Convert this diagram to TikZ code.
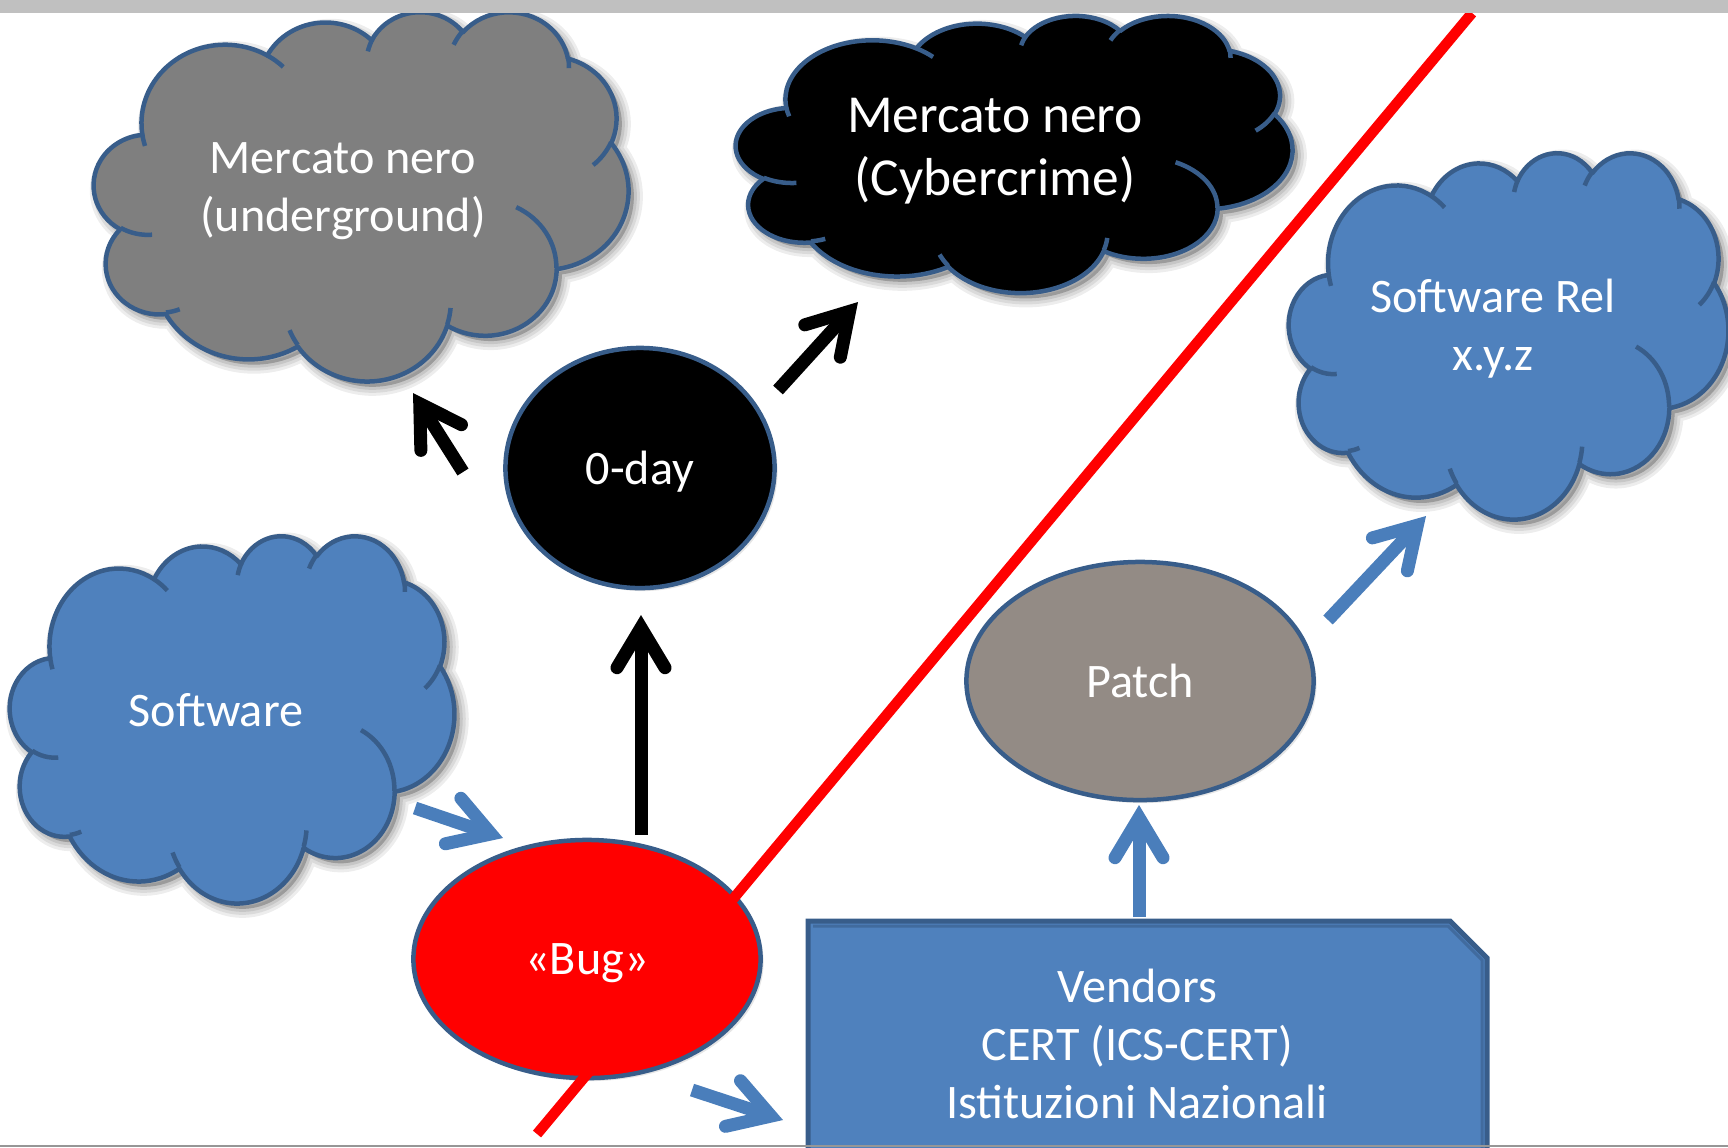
\documentclass[tikz,border=0pt]{standalone}
\usepackage{fontspec}
\setmainfont{Carlito}
\usetikzlibrary{arrows.meta, shapes.geometric, shadows}

\definecolor{ppblue}{HTML}{4F81BD}
\definecolor{ppline}{HTML}{385D8A}
\definecolor{arrowblue}{HTML}{4A7EBB}
\definecolor{ppgray}{HTML}{7F7F7F}
\definecolor{pptaupe}{HTML}{938B85}
\definecolor{ppbar}{HTML}{C0C0C0}
\definecolor{ppedge}{HTML}{969696}

% one arc of the cloud outline, box 100 x 100
\newcommand\cloudarc[5]{%
  \pgfmathsetmacro\ca{atan2(#2*sin(#4),#3*cos(#4))}%
  \pgfmathsetmacro\cb{atan2(#2*sin(#4+#5),#3*cos(#4+#5))}%
  \pgfmathsetmacro\cd{mod((\cb)-(\ca)+720,360)}%
  \edef\cloudtmp{\noexpand\tikzset{#1/.style={x radius=#2, y radius=#3,
    start angle=\ca, delta angle=\cd}}}%
  \cloudtmp}
\cloudarc{co-A}{15.632}{21.273}{-190.4875}{123.7805}
\cloudarc{co-B}{12.345}{16.822}{-144.1024}{89.9452}
\cloudarc{co-C}{10.104}{13.762}{-145.8079}{99.7230}
\cloudarc{co-D}{11.243}{15.266}{-130.9861}{117.2417}
\cloudarc{co-E}{12.345}{16.836}{-78.7089}{109.0269}
\cloudarc{co-F}{15.683}{21.343}{-46.2673}{130.2690}
\cloudarc{co-G}{13.391}{18.211}{0.6250}{114.0333}
\cloudarc{co-H}{15.630}{21.331}{22.4516}{115.1726}
\cloudarc{co-I}{17.870}{24.405}{66.2426}{75.7110}
\cloudarc{co-J}{10.093}{13.699}{-274.9421}{146.7356}
\cloudarc{co-K}{10.058}{13.762}{-246.8285}{152.5189}
\cloudarc{ci-a}{10.058}{13.762}{86.742}{26.4295}
\cloudarc{ci-b}{10.093}{13.699}{73.6105}{11.4475}
\cloudarc{ci-c}{15.630}{21.331}{137.6242}{14.0811}
\cloudarc{ci-d}{15.630}{21.331}{6.4533}{15.9984}
\cloudarc{ci-e}{13.391}{18.211}{-70.2924}{70.9174}
\cloudarc{ci-f}{12.345}{16.836}{30.3180}{27.7515}
\cloudarc{ci-g}{11.243}{15.266}{-13.7443}{14.8589}
\cloudarc{ci-h}{11.243}{15.266}{-149.1815}{18.1954}
\cloudarc{ci-i}{10.104}{13.762}{-163.4943}{17.6864}
\cloudarc{ci-j}{15.632}{21.273}{-66.7070}{12.3194}
\cloudarc{ci-k}{15.632}{21.273}{157.6544}{11.8582}

\newcommand\cloudoutline{(9.0278,33.2639) arc[co-A] arc[co-B] arc[co-C]
  arc[co-D] arc[co-E] arc[co-F] arc[co-G] arc[co-H] arc[co-I] arc[co-J]
  arc[co-K] -- cycle}
\newcommand\cloudinner{(10.8634,60.5949) arc[ci-a] (16.0370,80.7847) arc[ci-b]
  (38.1435,90.4861) arc[ci-c] (66.7292,80.4421) arc[ci-d]
  (79.0023,53.1343) arc[ci-e] (96.7546,35.5417) arc[ci-f]
  (88.7130,12.5602) arc[ci-g] (67.3102,9.1481) arc[ci-h]
  (51.2523,10.9259) arc[ci-i] (32.4074,12.0185) arc[ci-j]
  (9.5532,36.5486) arc[ci-k]}

\tikzset{
  pics/pptcloud/.style={code={
    \foreach \w/\o in {0.18cm/0.07, 0.12cm/0.08, 0.06cm/0.09}
      \path[draw=black, fill=black, line width=\w, opacity=\o,
        xshift=1.5pt, yshift=-1.5pt] \cloudoutline;
    \path[fill=#1, draw=ppline, line width=0.045cm, line join=round] \cloudoutline;
    \draw[ppline, line width=0.045cm] \cloudinner;
  }}
}

\begin{document}
\begin{tikzpicture}[x=0.01cm, y=-0.01cm,
  txt/.style={text=white, font=\fontsize{13.7}{16.5}\selectfont, align=center,
    text depth=0pt},
  oval/.style={ellipse, draw=ppline, line width=0.045cm, inner sep=0pt, txt,
    drop shadow={opacity=0.2, shadow xshift=0.03cm, shadow yshift=-0.03cm}},
  pparrow/.style={line width=0.13cm,
    -{Straight Barb[length=0.4cm, width=0.48cm, line cap=round]}},
  blackarrow/.style={pparrow, draw=black},
  bluearrow/.style={pparrow, draw=arrowblue}
]
\useasboundingbox (0,0) rectangle (1728,1147);
\clip (0,0) rectangle (1728,1147);

\begin{scope}[shift={(94,11)}, x=0.0534cm, y=-0.0369cm]
  \pic {pptcloud=ppgray};
\end{scope}
\begin{scope}[shift={(736,15)}, x=0.0556cm, y=-0.0277cm]
  \pic {pptcloud=black};
\end{scope}
\begin{scope}[shift={(1289,152)}, x=0.0439cm, y=-0.0366cm]
  \pic {pptcloud=ppblue};
\end{scope}
\begin{scope}[shift={(10,535)}, x=0.0444cm, y=-0.0367cm]
  \pic {pptcloud=ppblue};
\end{scope}

\node[txt] (underground) at (343,187) {Mercato nero\\(underground)};
\node[txt, font=\fontsize{15.2}{18}\selectfont] (cybercrime) at (995,147) {Mercato nero\\(Cybercrime)};
\node[txt] (release) at (1493,325) {Software Rel\\x.y.z};
\node[txt] (software) at (216,710) {Software};

\draw[fill=ppblue, draw=ppline, line width=0.05cm]
  (808,921) -- (1450,921) -- (1487,958) -- (1487,1180) -- (808,1180) -- cycle;
\draw[ppline!60!ppblue, line width=0.03cm]
  (813,926) -- (1448,926) -- (1482,960) -- (1482,1180);
\node[txt] (vendors) at (1137,1044) {Vendors\\CERT (ICS-CERT)\\Istituzioni Nazionali};

\node[oval, fill=black, minimum width=2.69cm, minimum height=2.40cm] (zeroday) at (640,468) {0-day};
\node[oval, fill=red, minimum width=3.47cm, minimum height=2.38cm] (bug) at (587,959) {«Bug»};
\node[oval, fill=pptaupe, minimum width=3.47cm, minimum height=2.38cm] (patch) at (1140,681) {Patch};

\coordinate (cut-a) at (537,1134);
\coordinate (cut-b) at (1472,13);
\draw[red, line width=0.105cm] (cut-a) -- (cut-b);

\coordinate (sw-out) at (415,808);
\coordinate (bug-in) at (503,838);
\coordinate (bug-top) at (641,835);
\coordinate (zd-in) at (641,615);
\coordinate (zd-l) at (463,472);
\coordinate (ug-in) at (413,393);
\coordinate (zd-r) at (778,390);
\coordinate (cc-in) at (858,302);
\coordinate (bug-out) at (692,1090);
\coordinate (vd-in) at (783,1120);
\coordinate (vd-top) at (1139,917);
\coordinate (pt-in) at (1139,805);
\coordinate (pt-out) at (1328,620);
\coordinate (rel-in) at (1426,516);

\draw[blackarrow] (bug-top) -- (zd-in);
\draw[blackarrow] (zd-l) -- (ug-in);
\draw[blackarrow] (zd-r) -- (cc-in);
\draw[bluearrow] (sw-out) -- (bug-in);
\draw[bluearrow] (bug-out) -- (vd-in);
\draw[bluearrow] (vd-top) -- (pt-in);
\draw[bluearrow] (pt-out) -- (rel-in);

\fill[ppbar] (0,0) rectangle (1728,13);
\draw[ppedge, line width=0.02cm] (0,1146) -- (1728,1146);
\end{tikzpicture}
\end{document}
